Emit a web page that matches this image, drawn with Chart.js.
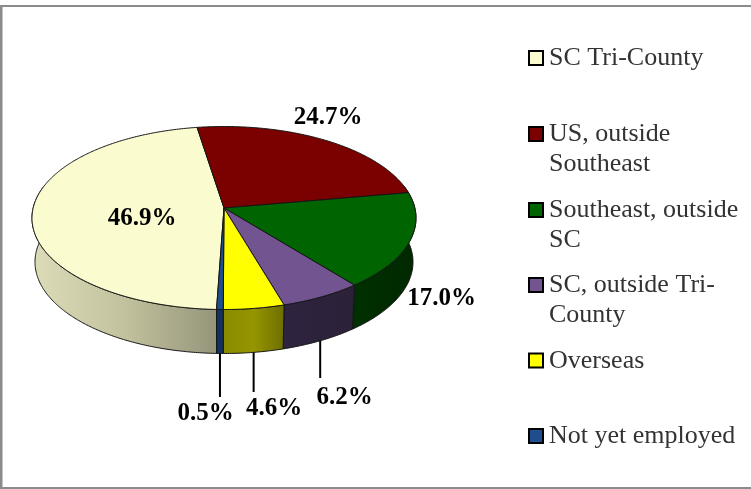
<!DOCTYPE html>
<html>
<head>
<meta charset="utf-8">
<style>html,body{margin:0;padding:0;background:#fff}canvas{display:block}</style>
<script src="https://cdn.jsdelivr.net/npm/chart.js@4"></script>
</head>
<body>
<canvas id="c" width="751" height="489"></canvas>
<script>
const categories = ['SC Tri-County','US, outside Southeast','Southeast, outside SC','SC, outside Tri-County','Overseas','Not yet employed'];
const shares = [46.9,24.7,17.0,6.2,4.6,0.5];
const shareLabels = ['46.9%','24.7%','17.0%','6.2%','4.6%','0.5%'];
const legendLines = [['SC Tri-County'],['US, outside','Southeast'],['Southeast, outside','SC'],['SC, outside Tri-','County'],['Overseas'],['Not yet employed']];
const topColors = ['#fbfbd0','#7b0000','#006400','#725590','#ffff00','#1f4e8c'];
const wallColors = [['#dcdcb8','#c2c29e','#95957b'],['#4a0000','#4a0000'],['#003000','#002800'],['#2f2340','#2b2138'],['#8a8a00','#959500','#6e6e00'],['#14305c','#14305c']];
const labelCenters = [[142,219],[328,118],[441.5,299],[344.5,398],[274,409],[205.5,414]];
const leaderEnds = [null,null,null,378,392,397];
const legendRows = [58,134,210,285,360.5,436];

const SQUASH = 0.4766, TILT = -0.109, BOTTOM_RX = 189/192, BOTTOM_RY = 91.5, BOTTOM_CY = 262;

function rim(el, a) {
  const u = Math.cos(a), v = Math.sin(a), den = 1 + TILT * v;
  return [((u * Math.sqrt(1 - TILT * TILT)) / den), ((v + TILT) / den)];
}
function topPt(el, a) {
  const p = rim(el, a);
  return [el.x + p[0] * el.outerRadius, el.y + p[1] * el.outerRadius * SQUASH];
}
function botPt(el, a) {
  const p = rim(el, a);
  return [el.x + p[0] * el.outerRadius * BOTTOM_RX, BOTTOM_CY + p[1] * BOTTOM_RY];
}
function rimApex(el) {
  return [el.x, el.y + TILT * el.outerRadius * SQUASH];
}
function samples(el) {
  const out = [], n = Math.max(2, Math.ceil((el.endAngle - el.startAngle) / 0.01));
  for (let i = 0; i <= n; i++) out.push(el.startAngle + (el.endAngle - el.startAngle) * i / n);
  return out;
}

const pie3d = {
  id: 'pie3d',
  beforeDraw(chart) {
    const ctx = chart.ctx;
    ctx.save();
    ctx.fillStyle = '#fff';
    ctx.fillRect(0, 0, chart.width, chart.height);
    ctx.fillStyle = '#8c8c8c';
    ctx.fillRect(0, 5, chart.width, 2);
    ctx.fillRect(0, 5, 2.5, chart.height - 5);
    ctx.fillRect(0, 487, chart.width, 2);
    ctx.restore();
  },
  beforeDatasetDraw(chart) {
    const ctx = chart.ctx, els = chart.getDatasetMeta(0).data;
    ctx.save();
    ctx.lineJoin = 'round';
    els.forEach((el, i) => {
      const as = samples(el).filter(a => Math.sin(a) > -0.25);
      if (as.length < 2) return;
      const tp = as.map(a => topPt(el, a)), bp = as.map(a => botPt(el, a));
      const xs = tp.concat(bp).map(p => p[0]);
      const g = ctx.createLinearGradient(Math.min(...xs), 0, Math.max(...xs), 0);
      wallColors[i].forEach((c, k, arr) => g.addColorStop(k / (arr.length - 1), c));
      ctx.beginPath();
      tp.forEach((p, k) => k ? ctx.lineTo(p[0], p[1]) : ctx.moveTo(p[0], p[1]));
      bp.reverse().forEach(p => ctx.lineTo(p[0], p[1]));
      ctx.closePath();
      ctx.fillStyle = g;
      ctx.fill();
      ctx.strokeStyle = '#151515';
      ctx.lineWidth = 1;
      ctx.stroke();
    });
    els.forEach((el, i) => {
      const apex = rimApex(el);
      ctx.beginPath();
      ctx.moveTo(apex[0], apex[1]);
      samples(el).forEach(a => { const p = topPt(el, a); ctx.lineTo(p[0], p[1]); });
      ctx.closePath();
      ctx.fillStyle = topColors[i];
      ctx.fill();
      ctx.strokeStyle = '#151515';
      ctx.lineWidth = 1;
      ctx.stroke();
    });
    ctx.strokeStyle = '#000';
    ctx.lineWidth = 2;
    els.forEach((el, i) => {
      if (leaderEnds[i] === null) return;
      const p = botPt(el, (el.startAngle + el.endAngle) / 2);
      ctx.beginPath();
      ctx.moveTo(p[0], p[1]);
      ctx.lineTo(p[0], leaderEnds[i]);
      ctx.stroke();
    });
    ctx.restore();
    return false;
  },
  afterDraw(chart) {
    const ctx = chart.ctx;
    ctx.save();
    ctx.fillStyle = '#000';
    ctx.font = 'bold 25px "Liberation Serif"';
    ctx.textAlign = 'center';
    ctx.textBaseline = 'middle';
    shareLabels.forEach((t, i) => ctx.fillText(t, labelCenters[i][0], labelCenters[i][1]));
    ctx.textAlign = 'left';
    ctx.textBaseline = 'alphabetic';
    ctx.font = '26px "Liberation Serif"';
    legendLines.forEach((lines, i) => {
      const y = legendRows[i];
      ctx.fillStyle = topColors[i];
      ctx.fillRect(529, y - 7, 14, 14);
      ctx.strokeStyle = '#000';
      ctx.lineWidth = 2;
      ctx.strokeRect(529, y - 7, 14, 14);
      ctx.fillStyle = '#333';
      lines.forEach((t, k) => ctx.fillText(t, 549, y + 7 + k * 29.5));
    });
    ctx.restore();
  }
};

new Chart(document.getElementById('c'), {
  type: 'pie',
  data: { labels: categories, datasets: [{ data: shares, backgroundColor: topColors, borderWidth: 0 }] },
  options: {
    responsive: false,
    animation: false,
    rotation: 182,
    layout: { padding: { left: 32, right: 335, top: 26, bottom: 79 } },
    plugins: { legend: { display: false }, tooltip: { enabled: false } }
  },
  plugins: [pie3d]
});
</script>
</body>
</html>
